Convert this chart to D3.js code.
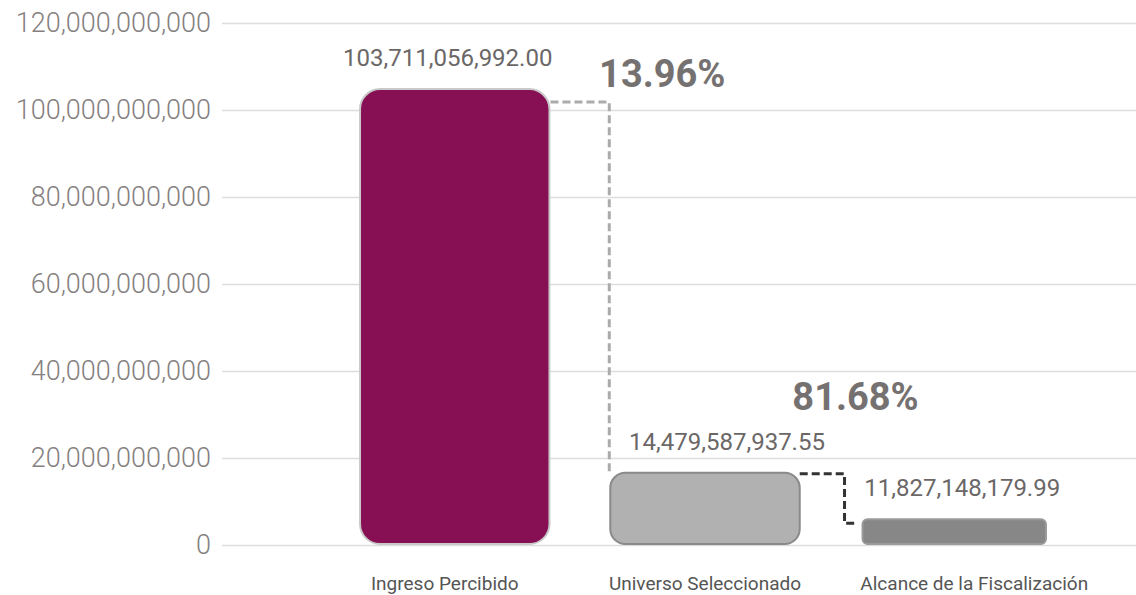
<!DOCTYPE html>
<html>
<head>
<meta charset="utf-8">
<script src="https://cdn.jsdelivr.net/npm/d3@7"></script>
<style>
  body { margin: 0; background: #fff; }
  svg { display: block; font-family: Roboto, "Noto Sans", sans-serif; }
</style>
</head>
<body>
<svg id="chart"></svg>
<script>
// Data
var categories = ["Ingreso Percibido", "Universo Seleccionado", "Alcance de la Fiscalización"];
var amounts = [103711056992.00, 14479587937.55, 11827148179.99];
// bar heights as they are drawn in the picture (not exactly to scale with the amounts)
var barHeights = [104.8e9, 16.6e9, 5.9e9];
var percentages = ["13.96%", "81.68%"];
var yTicks = [0, 20e9, 40e9, 60e9, 80e9, 100e9, 120e9];

var width = 1136;
var height = 595;

var svg = d3.select("#chart")
  .attr("width", width)
  .attr("height", height);

var defs = svg.append("defs");
defs.append("filter")
  .attr("id", "soft")
  .attr("x", "-5%").attr("y", "-20%").attr("width", "110%").attr("height", "140%")
  .append("feGaussianBlur")
  .attr("stdDeviation", 0.6);

// scales
var x = d3.scaleBand()
  .domain(categories)
  .range([330, 1080])
  .paddingInner(0.243)
  .paddingOuter(0.12);

var y = d3.scaleLinear()
  .domain([0, 120e9])
  .range([545, 23]);

var fmtTick = d3.format(",");
var fmtAmount = d3.format(",.2f");

// y axis with grid lines
var yAxis = svg.append("g")
  .attr("transform", "translate(222,0)")
  .call(d3.axisLeft(y).tickValues(yTicks).tickSize(-(width - 222)).tickFormat(fmtTick).tickPadding(11));

yAxis.select(".domain").remove();
yAxis.selectAll(".tick line")
  .attr("stroke", "#dddddd")
  .attr("stroke-width", 1.5);
yAxis.selectAll(".tick text")
  .attr("fill", "#857f7f")
  .style("font-size", "27px")
  .style("font-weight", 300)
  .style("font-family", "Roboto, sans-serif");

// x axis labels
svg.append("g")
  .selectAll("text")
  .data(categories)
  .enter()
  .append("text")
  .attr("x", function(d, i) { return x(d) + x.bandwidth() / 2 + [-10, 0, 19][i]; })
  .attr("y", 590)
  .attr("text-anchor", "middle")
  .attr("fill", "#555")
  .style("font-size", "19px")
  .text(function(d) { return d; });

// bars
var fills = ["#870f54", "#b1b1b1", "#878787"];
var strokes = ["#c9c9c9", "#8a8a8a", "#9a9a9a"];
var radii = [20, 15, 5];

svg.append("g")
  .selectAll("rect")
  .data(categories)
  .enter()
  .append("rect")
  .attr("x", function(d, i) { return x(d) + (i == 2 ? 2 : 0); })
  .attr("y", function(d, i) { return y(barHeights[i]); })
  .attr("width", function(d, i) { return x.bandwidth() - (i == 2 ? 6 : 0); })
  .attr("height", function(d, i) { return y(0) - y(barHeights[i]) - 1; })
  .attr("rx", function(d, i) { return radii[i]; })
  .attr("fill", function(d, i) { return fills[i]; })
  .attr("stroke", function(d, i) { return strokes[i]; })
  .attr("stroke-width", 2)
  .attr("filter", function(d, i) { return i == 2 ? "url(#soft)" : null; });

// value labels
svg.append("g")
  .selectAll("text")
  .data(amounts)
  .enter()
  .append("text")
  .attr("x", function(d, i) { return x(categories[i]) + x.bandwidth() / 2 + [-7, 22, 7][i]; })
  .attr("y", function(d, i) { return y(barHeights[i]) - 23; })
  .attr("text-anchor", "middle")
  .attr("fill", "#6b6767")
  .style("font-size", "24px")
  .text(function(d) { return fmtAmount(d); });

// dashed connectors
var bw = x.bandwidth();
var c1 = [
  [x(categories[0]) + bw + 1, y(barHeights[0]) + 13],
  [x(categories[1]) - 1, y(barHeights[0]) + 13],
  [x(categories[1]) - 1, y(barHeights[1]) + 2]
];
var c2 = [
  [x(categories[1]) + bw, y(barHeights[1]) + 1],
  [x(categories[2]) - 16, y(barHeights[1]) + 1],
  [x(categories[2]) - 16, y(barHeights[2]) + 4],
  [x(categories[2]) - 6, y(barHeights[2]) + 4]
];
var line = d3.line();

svg.append("path")
  .attr("d", line(c1))
  .attr("fill", "none")
  .attr("stroke", "#ababab")
  .attr("stroke-width", 3)
  .attr("stroke-dasharray", "8,4");

svg.append("path")
  .attr("d", line(c2))
  .attr("fill", "none")
  .attr("stroke", "#333")
  .attr("stroke-width", 3)
  .attr("stroke-dasharray", "8,4");

// percentage labels
svg.append("text")
  .attr("x", x(categories[1]) + 52)
  .attr("y", y(barHeights[0]) - 2)
  .attr("text-anchor", "middle")
  .attr("fill", "#767171")
  .style("font-size", "38px")
  .style("font-weight", "bold")
  .text(percentages[0]);

svg.append("text")
  .attr("x", x(categories[2]) - 5)
  .attr("y", y(barHeights[1]) - 63)
  .attr("text-anchor", "middle")
  .attr("fill", "#767171")
  .style("font-size", "38px")
  .style("font-weight", "bold")
  .text(percentages[1]);
</script>
</body>
</html>
